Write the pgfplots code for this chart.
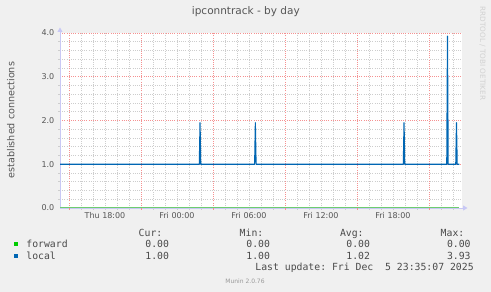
\documentclass[border=0pt]{standalone}
\usepackage{fontspec}
\setmainfont{DejaVu Sans}
\setmonofont{DejaVu Sans Mono}
\usepackage{pgfplots}
\pgfplotsset{compat=1.18}
\usetikzlibrary{arrows.meta}
\definecolor{bg}{HTML}{F0F0F0}
\definecolor{txt}{HTML}{555555}
\definecolor{legtxt}{HTML}{4A4A4A}
\definecolor{fwd}{HTML}{00CC00}
\definecolor{fwdline}{RGB}{110,205,110}
\definecolor{loc}{HTML}{0066B3}
\definecolor{axcol}{RGB}{200,200,245}
\definecolor{mgrid}{RGB}{245,145,145}
\definecolor{gridc}{RGB}{205,205,205}
\begin{document}
\begin{tikzpicture}
\path[use as bounding box, fill=bg] (0pt,0pt) rectangle (491pt,292pt);
\begin{axis}[
  at={(60pt,84pt)}, anchor=south west,
  width=402pt, height=175pt, scale only axis,
  xmin=14.25, xmax=47.75, ymin=0, ymax=4,
  clip=false,
  axis background/.style={fill=white},
  axis lines*=left,
  axis line style={draw=axcol, line width=0.8pt, -{Triangle[width=5pt,length=4.5pt]}, shorten >=-5.5pt},
  /pgf/number format/assume math mode=true,
  xtick={18,24,30,36,42},
  xticklabels={Thu 18:00, Fri 00:00, Fri 06:00, Fri 12:00, Fri 18:00},
  minor xtick={16,17,18,19,20,22,23,24,25,26,28,29,30,31,32,34,35,36,37,38,40,41,42,43,44,46,47},
  extra x ticks={15,21,27,33,39,45},
  extra x tick labels={},
  extra x tick style={grid=major, major tick length=2pt, tick style={draw=mgrid, solid, line width=0.7pt}},
  ytick={0,1,2,3,4},
  minor y tick num=4,
  xminorgrids, ymajorgrids, yminorgrids,
  major grid style={draw=mgrid, line width=0.7pt, dash pattern=on 1pt off 1.2pt},
  minor grid style={draw=gridc, line width=0.7pt, dash pattern=on 1pt off 1.2pt},
  tick align=outside,
  major tick length=0pt,
  minor tick length=2pt,
  minor tick style={draw=gridc, solid, line width=0.7pt},
  yticklabel style={font=\fontsize{8}{9}\selectfont, text=txt, inner sep=0pt, anchor=east, xshift=-5.5pt,
    /pgf/number format/fixed, /pgf/number format/fixed zerofill, /pgf/number format/precision=1},
  xticklabel style={font=\fontsize{8}{9}\selectfont, text=txt, inner sep=0pt, anchor=north, yshift=-4pt},
]
\addplot[draw=fwdline, line width=1pt, no markers] coordinates {(14.25,0) (47.54,0)};
\addplot[draw=loc, line width=1.1pt, line join=round, no markers] coordinates {
(14.25,1) (25.86,1) (25.92,1.95) (25.98,1) (30.47,1) (30.53,1.95) (30.59,1)
(42.86,1) (42.92,1.95) (42.98,1) (46.48,1) (46.54,3.93) (46.60,1)
(47.23,1) (47.29,1.95) (47.35,1) (47.54,1)};
\end{axis}
\begin{scope}[x=1pt,y=1pt]
\node[anchor=base, font=\fontsize{10.5}{12}\selectfont, text=txt] at (245.8,277.3) {ipconntrack - by day};
\node[rotate=90, font=\fontsize{9.6}{11}\selectfont, text=txt] at (10.7,172) {established connections};
\node[rotate=-90, font=\fontsize{7.3}{8}\selectfont, text=black!18] at (482.5,238.6) {RRDTOOL / TOBI OETIKER};
\node[font=\fontsize{6}{7}\selectfont, text=black!40] at (245,11) {Munin 2.0.76};
\fill[fwd] (13.55,45.55) rectangle (18.15,50.15);
\fill[loc] (13.55,33.85) rectangle (18.15,38.45);
\begin{scope}[every node/.style={anchor=base west, inner sep=0pt, font=\ttfamily\fontsize{9.8}{11}\selectfont, text=legtxt}]
\node at (138.5,55.3) {Cur:};
\node at (239.5,55.3) {Min:};
\node at (339.8,55.3) {Avg:};
\node at (440.5,55.3) {Max:};
\node at (26.2,44.3) {forward};
\node at (145.2,44.3) {0.00};
\node at (246.2,44.3) {0.00};
\node at (346.2,44.3) {0.00};
\node at (446.8,44.3) {0.00};
\node at (26.2,32.7) {local};
\node at (145.2,32.7) {1.00};
\node at (246.2,32.7) {1.00};
\node at (346.2,32.7) {1.02};
\node at (446.8,32.7) {3.93};
\node at (255.2,21) {Last update: Fri Dec\ \ 5 23:35:07 2025};
\end{scope}
\end{scope}
\end{tikzpicture}
\end{document}
